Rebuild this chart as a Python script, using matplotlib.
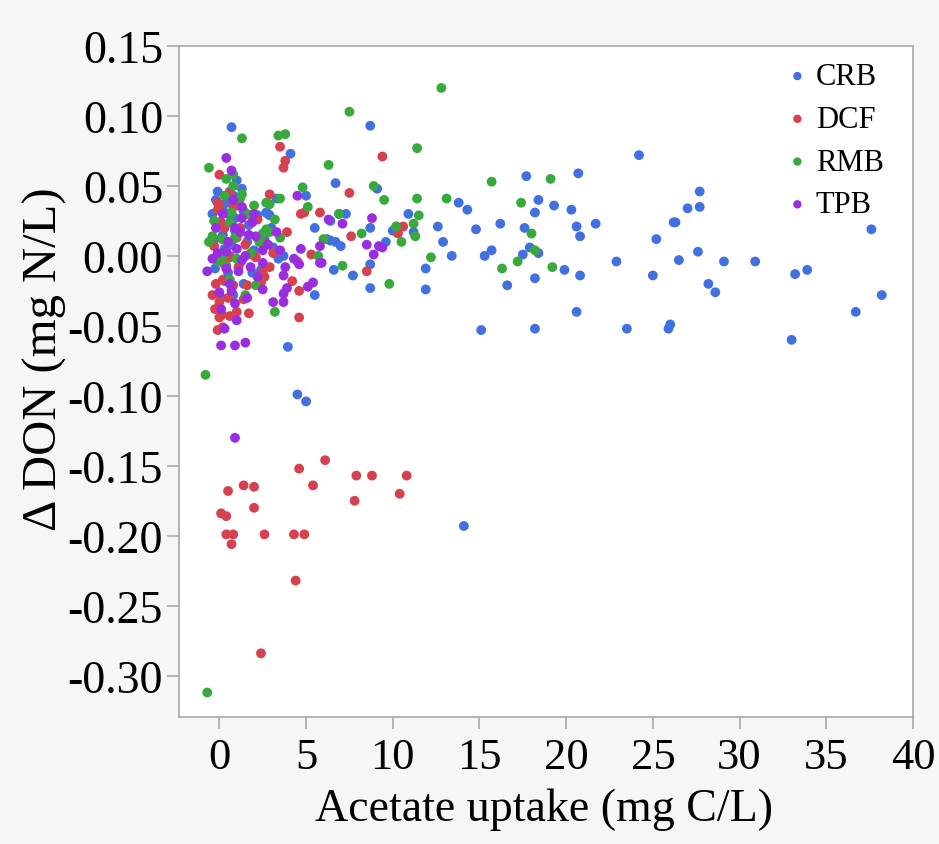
import matplotlib
matplotlib.use("Agg")
import matplotlib.pyplot as plt

plt.rcParams['font.family'] = ['Liberation Serif', 'DejaVu Serif']

groups = ["CRB", "DCF", "RMB", "TPB"]
colors = ["#4170e0", "#d7414f", "#38aa3c", "#9b2de1"]

crb_x = [38.2, 36.7, 37.6, 33.0, 33.2, 33.9, 30.9, 29.1, 28.6, 28.2, 27.7, 27.0, 27.7, 26.3, 26.2,
         27.6, 26.5, 26.0, 25.9, 25.2, 25.0, 24.2, 23.5, 22.9, 21.7, 20.8, 20.7, 20.6, 20.8, 20.6,
         20.3, 19.3, 19.9, 18.4, 18.2, 17.7, 17.6, 17.5, 17.9, 18.4, 18.2, 18.2, 16.6, 16.2, 15.7,
         15.3, 15.1, 14.8, 14.3, 13.8, 13.4, 12.9, 12.6, 11.9, 11.9, 14.1,
         0.7, 8.7, 4.1, 6.7, 9.1, 5.0, 7.3, 6.9, 10.9, 5.5, 8.7, 10.0, 6.4, 6.7, 7.0, 9.6, 6.6,
         7.7, 8.7, 2.2, 2.8, 1.0, 0.6, -0.2, 0.8, 3.3, 3.0, 11.2, 8.7, 5.5, 3.95, 4.5, 5.0, 0.4,
         -0.25, 0.3, 0.3, 0.9, 1.6, 2.9, 0.0, 6.4, 6.2, 3.7, 3.4, 2.7,
         0.5, 1.2, -0.3, 0.8, 1.9, 0.1, 1.4, 2.4, 0.6,
         0.2, 0.9, 1.7, -0.4, 0.5, 1.1, 2.0, 0.0, 1.4, 0.7, 2.6, -0.1, 1.3, 0.2, 3.1]
crb_y = [-0.028, -0.040, 0.019, -0.060, -0.013, -0.010, -0.004, -0.004, -0.026, -0.020, 0.046, 0.034, 0.035, 0.024, 0.024,
         0.003, -0.003, -0.049, -0.052, 0.012, -0.014, 0.072, -0.052, -0.004, 0.023, 0.014, 0.059, 0.021, -0.014, -0.040,
         0.033, 0.036, -0.010, 0.040, 0.031, 0.057, 0.020, 0.001, 0.006, 0.002, -0.016, -0.052, -0.021, 0.023, 0.004,
         0.000, -0.053, 0.019, 0.033, 0.038, 0.000, 0.010, 0.021, -0.009, -0.024, -0.193,
         0.092, 0.093, 0.073, 0.052, 0.048, 0.043, 0.030, 0.030, 0.030, 0.020, 0.020, 0.018, 0.011, 0.010, 0.007, 0.010, -0.010,
         -0.014, -0.006, 0.029, 0.030, 0.054, 0.046, 0.040, 0.043, 0.041, 0.020, 0.017, -0.023, -0.028, -0.065, -0.099, -0.104, 0.038,
         -0.009, 0.005, -0.018, 0.018, 0.010, 0.029, 0.024, 0.025, 0.012, 0.000, -0.002, 0.031,
         0.030, -0.005, 0.012, -0.028, -0.012, -0.030, 0.032, -0.010, 0.000,
         0.015, 0.027, 0.022, 0.030, -0.012, 0.036, 0.004, -0.002, -0.020, 0.008, 0.012, 0.046, 0.048, 0.033, 0.006]

dcf_x = [6.1, 4.6, 7.9, 8.8, 10.8, 5.4, 0.5, 1.4, 2.0, 7.8, 10.4, 2.0, 0.1, 0.4, 0.4, 0.8, 0.7, 2.6, 4.3, 4.9,
         4.4, 2.4,
         3.5, 3.8, 3.7, 9.4, 0.0, 7.5, 2.9, 4.7, 4.9, 5.8, 7.6, 3.9, 10.2, 10.6, 10.3, 8.5, 5.3, -0.1, -0.1,
         1.8, 4.6, 4.6, 1.7, -0.1, 0.2, 0.6, 0.0, 0.0, 4.2, 0.0, -0.3, -0.25, 0.15, 0.2, 0.8, 1.6, 1.4, 2.4,
         2.1, 2.5, 1.2, 0.6, 3.1, 4.5, 2.6, 2.4,
         0.3, 1.0, -0.2, 0.5, 1.1, 1.9, 0.8, 0.3, 1.5, -0.4, 2.9, 1.0, 0.6, 2.2, 0.1]
dcf_y = [-0.146, -0.152, -0.157, -0.157, -0.157, -0.164, -0.168, -0.164, -0.165, -0.175, -0.170, -0.180, -0.184, -0.186, -0.199, -0.199, -0.206, -0.199, -0.199, -0.199,
         -0.232, -0.284,
         0.078, 0.068, 0.063, 0.071, 0.058, 0.045, 0.044, 0.030, 0.031, 0.031, 0.014, 0.017, 0.021, 0.021, 0.016, -0.011, 0.001, 0.033, 0.038,
         0.029, -0.025, -0.044, -0.041, -0.053, -0.051, -0.043, -0.044, -0.033, -0.018, 0.036, 0.007, -0.038, -0.042, -0.017, -0.021, -0.021, -0.031, -0.019,
         -0.001, -0.012, 0.020, -0.001, 0.002, -0.004, -0.015, 0.010,
         0.020, 0.013, -0.020, -0.030, -0.008, 0.001, 0.035, -0.006, 0.008, -0.028, -0.008, -0.040, 0.045, 0.026, 0.024]

rmb_x = [12.8, 11.4, 15.7, 19.1, 13.1, 17.4, 11.5, 11.4, 18.0, 18.2, 12.2, 17.2, 16.3, 19.2,
         7.5, 1.3, 3.4, 3.8, -0.6, 6.3, 0.8, 4.8, 8.9, 9.5, 5.1, 3.5, 2.0, 1.3, 2.9, 6.9, 8.2, 10.2,
         10.5, 11.2, 11.3, 7.1, 2.5, -0.4, 3.2, 9.8, 3.2, -0.8, -0.7, 0.15, 0.6, 2.9, 0.4, 2.1, -0.1,
         1.0, 2.7, 0.7, 6.0, 5.7, 2.7,
         0.3, 0.9, 1.6, -0.3, 0.6, 1.8, 0.2, 1.2, 2.3, -0.6, 0.8, 1.5, 3.5, 0.4]
rmb_y = [0.120, 0.077, 0.053, 0.055, 0.041, 0.038, 0.029, 0.041, 0.016, 0.004, -0.001, -0.004, -0.009, -0.008,
         0.103, 0.084, 0.086, 0.087, 0.063, 0.065, 0.058, 0.049, 0.050, 0.040, 0.035, 0.041, 0.036, 0.044, 0.037, 0.030, 0.016, 0.021,
         0.010, 0.023, 0.014, -0.007, 0.016, 0.014, 0.026, -0.020, -0.040, -0.085, -0.312, 0.012, 0.024, 0.017, -0.007, -0.021, -0.004,
         -0.002, 0.019, 0.031, 0.012, 0.000, 0.038,
         0.043, 0.013, 0.030, 0.025, -0.017, 0.002, 0.000, 0.041, 0.010, 0.010, 0.050, -0.028, 0.013, 0.055]

tpb_x = [0.4, 0.7, 4.5, 6.3, 7.1, 8.8, 8.5, 8.9, 9.4, 4.7, 5.8, 1.3, 1.9, -0.7, 3.3, 0.9, 0.1, 0.9, 1.5,
         0.3, 3.1, 3.7, 3.7, 3.9, 5.1, 5.4, 5.9, 0.9, 2.5, 3.7, 1.3, 0.5, 1.0, 1.5, 1.1, 0.4, 1.8, 0.0,
         0.7, 2.5, 1.2, -0.1, 2.1, 5.8, 4.6, 3.5, 3.8, 9.2, 4.3, 2.5,
         0.2, 0.9, 1.7, -0.2, 0.6, 1.3, 2.2, 0.1, 0.8, 1.6, 2.8, 0.4, 1.0, -0.4, 2.0]
tpb_y = [0.070, 0.061, 0.043, 0.026, 0.023, 0.027, 0.008, 0.001, 0.006, 0.005, -0.005, 0.035, 0.024, -0.011, 0.017, -0.130, -0.064, -0.064, -0.062,
         -0.052, -0.033, -0.033, -0.027, -0.023, -0.022, -0.019, -0.005, -0.034, -0.024, -0.014, 0.027, 0.010, 0.005, 0.000, -0.011, -0.009, -0.008, -0.026,
         -0.025, -0.005, 0.017, 0.002, 0.014, 0.007, -0.006, 0.004, -0.008, 0.007, -0.002, 0.004,
         0.030, 0.020, 0.015, 0.020, -0.020, -0.003, -0.015, -0.038, 0.040, -0.030, 0.008, 0.003, -0.046, -0.002, 0.030]

xs = [crb_x, dcf_x, rmb_x, tpb_x]
ys = [crb_y, dcf_y, rmb_y, tpb_y]

xticks = [0, 5, 10, 15, 20, 25, 30, 35, 40]
yticks = [0.15, 0.10, 0.05, 0.00, -0.05, -0.10, -0.15, -0.20, -0.25, -0.30]

fig = plt.figure(figsize=(9.39, 8.45), dpi=100, facecolor="#f6f6f6")
ax = fig.add_axes([0.1906, 0.1503, 0.7817, 0.7941])
ax.set_facecolor("white")

for g, c, x, y in zip(groups, colors, xs, ys):
    ax.scatter(x, y, s=50, color=c, edgecolors="none", label=g, zorder=3)

ax.set_xlim(-2.33, 40)
ax.set_ylim(-0.3295, 0.15)
ax.set_xticks(xticks)
ax.set_yticks(yticks)
ax.set_yticklabels([f"{v:.2f}" for v in yticks])

for s in ax.spines.values():
    s.set_color("#a8a8a8")
    s.set_linewidth(1.2)
ax.tick_params(axis="both", colors="#a8a8a8", labelcolor="black",
               length=8.5, width=1.2)
ax.tick_params(axis="x", pad=6, labelsize=32)
ax.tick_params(axis="y", pad=3, labelsize=33)

ax.set_xlabel("Acetate uptake (mg C/L)", fontsize=33)
ax.set_ylabel("\u0394 DON (mg N/L)", fontsize=35)
ax.xaxis.set_label_coords(0.497, -0.137)
ax.xaxis.label.set_va("center")
ax.yaxis.set_label_coords(-0.183, 0.534)
ax.yaxis.label.set_va("center")

leg = ax.legend(loc="upper left", bbox_to_anchor=(0.83, 0.976), frameon=False,
                fontsize=22, handlelength=0.6, handletextpad=0.3, borderpad=0,
                borderaxespad=0, labelspacing=0.45, markerscale=0.85)

fig.savefig("out.png", dpi=100, facecolor=fig.get_facecolor())
